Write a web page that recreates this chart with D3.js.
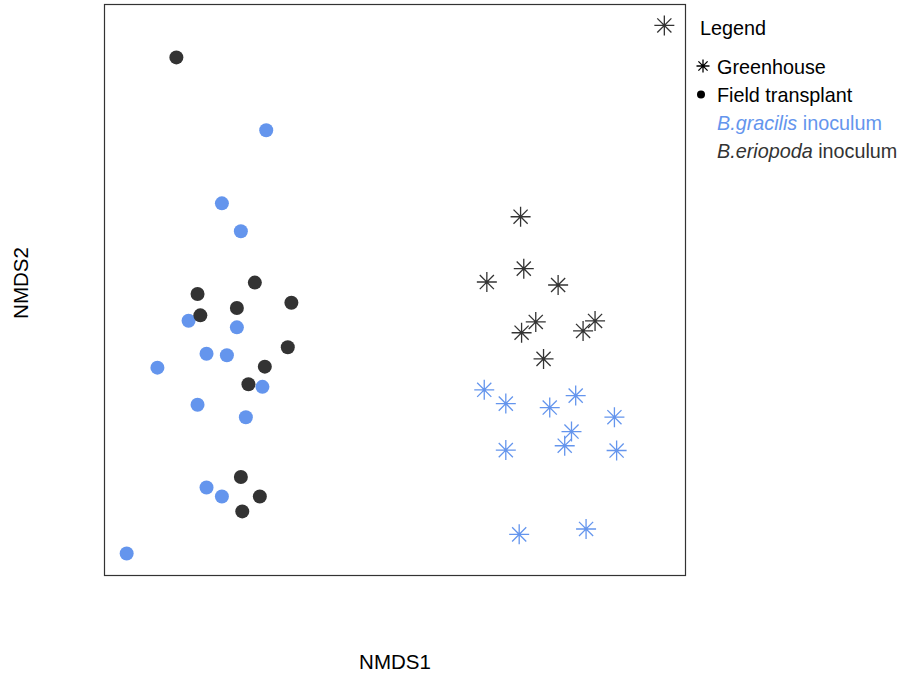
<!DOCTYPE html>
<html>
<head>
<meta charset="utf-8">
<script src="https://cdn.jsdelivr.net/npm/d3@7"></script>
<style>
  html, body { margin: 0; padding: 0; background: #fff; }
  svg { display: block; font-family: "Liberation Sans", Arial, sans-serif; }
</style>
</head>
<body>
<svg id="chart" width="905" height="678"></svg>
<script>
// NMDS ordination scores [NMDS1, NMDS2] per treatment group
const fieldEriopoda = [
  [-1.095, 1.165], [-0.989, -0.020], [-0.702, 0.037], [-0.519, -0.064],
  [-0.792, -0.090], [-0.975, -0.127], [-0.537, -0.287], [-0.652, -0.384],
  [-0.734, -0.472], [-0.772, -0.937], [-0.677, -1.034], [-0.765, -1.109]
];
const fieldGracilis = [
  [-0.645, 0.800], [-0.867, 0.434], [-0.772, 0.294], [-1.034, -0.154],
  [-0.792, -0.187], [-0.944, -0.319], [-0.842, -0.327], [-1.190, -0.389],
  [-0.664, -0.485], [-0.989, -0.575], [-0.747, -0.637], [-0.944, -0.989],
  [-0.867, -1.034], [-1.344, -1.320]
];
const greenhouseEriopoda = [
  [1.349, 1.325], [0.629, 0.367], [0.645, 0.107], [0.460, 0.040],
  [0.817, 0.025], [0.705, -0.160], [0.634, -0.214], [1.002, -0.155],
  [0.942, -0.205], [0.744, -0.345]
];
const greenhouseGracilis = [
  [0.447, -0.500], [0.555, -0.569], [0.775, -0.589], [0.905, -0.529],
  [1.099, -0.637], [0.884, -0.709], [0.850, -0.780], [0.555, -0.802],
  [1.110, -0.804], [0.622, -1.224], [0.957, -1.197]
];

const xTitle = "NMDS1";
const yTitle = "NMDS2";
const legendTitle = "Legend";
const shapeLabels = ["Greenhouse", "Field transplant"];
const inoculumSpecies = ["B.gracilis", "B.eriopoda"];
const inoculumSuffix = " inoculum";

const BLUE = "#6495ED";
const DARK = "#333333";

const svg = d3.select("#chart");
const panel = { left: 104.5, top: 4.5, right: 685.5, bottom: 575.5 };

const x = d3.scaleLinear().domain([-1.455, 1.455]).range([panel.left, panel.right]);
const y = d3.scaleLinear().domain([-1.43, 1.43]).range([panel.bottom, panel.top]);

// asterisk: a plus and a cross with arms of equal length
function starPath(r) {
  const d = r / Math.SQRT2;
  return `M${-r},0L${r},0M0,${-r}L0,${r}M${-d},${-d}L${d},${d}M${-d},${d}L${d},${-d}`;
}

const plot = svg.append("g");

const groups = [
  { data: fieldGracilis, color: BLUE, shape: "circle" },
  { data: fieldEriopoda, color: DARK, shape: "circle" },
  { data: greenhouseGracilis, color: BLUE, shape: "star" },
  { data: greenhouseEriopoda, color: DARK, shape: "star" }
];

groups.forEach(g => {
  if (g.shape === "circle") {
    plot.append("g").selectAll("circle").data(g.data).join("circle")
      .attr("cx", d => x(d[0])).attr("cy", d => y(d[1]))
      .attr("r", 7).attr("fill", g.color);
  } else {
    plot.append("g").selectAll("path").data(g.data).join("path")
      .attr("transform", d => `translate(${x(d[0])},${y(d[1])})`)
      .attr("d", starPath(10))
      .attr("fill", "none").attr("stroke", g.color)
      .attr("stroke-width", 1.3);
  }
});

// panel border
svg.append("rect")
  .attr("x", panel.left).attr("y", panel.top)
  .attr("width", panel.right - panel.left).attr("height", panel.bottom - panel.top)
  .attr("fill", "none").attr("stroke", "#333").attr("stroke-width", 1.2);

// axis titles
svg.append("text")
  .attr("x", (panel.left + panel.right) / 2).attr("y", 669)
  .attr("text-anchor", "middle").attr("font-size", 20.5).attr("fill", "#000")
  .text(xTitle);
svg.append("text")
  .attr("transform", `translate(27.5,${(panel.top + panel.bottom) / 2 - 7}) rotate(-90)`)
  .attr("text-anchor", "middle").attr("font-size", 20.5).attr("fill", "#000")
  .text(yTitle);

// legend
const FS = 19.8;
const lg = svg.append("g");
lg.append("text").attr("x", 700).attr("y", 35).attr("font-size", FS).attr("fill", "#000")
  .text(legendTitle);

const keyY = [66, 94.5];
lg.append("path").attr("transform", `translate(703,${keyY[0]})`)
  .attr("d", starPath(6.5)).attr("fill", "none").attr("stroke", "#000").attr("stroke-width", 1.3);
lg.append("circle").attr("cx", 701).attr("cy", keyY[1]).attr("r", 4).attr("fill", "#000");
shapeLabels.forEach((t, i) => {
  lg.append("text").attr("x", 717).attr("y", keyY[i] + 7.5)
    .attr("font-size", FS).attr("fill", "#000").text(t);
});

const inoColors = [BLUE, DARK];
inoculumSpecies.forEach((sp, i) => {
  const t = lg.append("text").attr("x", 717).attr("y", 130 + i * 28)
    .attr("font-size", FS).attr("fill", inoColors[i]);
  t.append("tspan").attr("font-style", "italic").text(sp);
  t.append("tspan").text(inoculumSuffix);
});
</script>
</body>
</html>
